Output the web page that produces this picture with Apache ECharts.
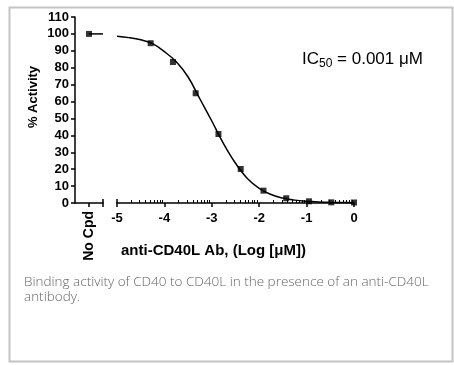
<!DOCTYPE html>
<html><head><meta charset="utf-8">
<script src="https://cdn.jsdelivr.net/npm/echarts@6/dist/echarts.min.js"></script>
<style>html,body{margin:0;padding:0;background:#fff}#c{width:454px;height:365px}</style>
</head><body><div id="c"></div>
<script>
// ---- data ----
const noCpdLabel = 'No Cpd';
const noCpdActivity = 100;
const logConc = [-4.29, -3.82, -3.34, -2.86, -2.39, -1.91, -1.43, -0.95, -0.48, 0];
const activity = [94.5, 83.4, 64.9, 40.8, 20.1, 7.3, 2.8, 1.0, 0.4, 0.3];
const fitLogConc = [-5, -4.75, -4.5, -4.25, -4, -3.75, -3.5, -3.25, -3, -2.75, -2.5, -2.25, -2, -1.75, -1.5, -1.25, -1, -0.75, -0.5, -0.25, 0];
const fitActivity = [98.6, 97.8, 96.5, 94.3, 89.5, 83.5, 74.5, 61.5, 48.5, 35, 23.5, 14.5, 8.7, 5.0, 2.9, 1.7, 1.0, 0.6, 0.4, 0.3, 0.2];
const xMajorTicks = [-5, -4, -3, -2, -1, 0];
const yTickLabels = ['0','10','20','30','40','50','60','70','80','90','100','110'];
const yAxisTitle = '% Activity';
const xAxisTitle = 'anti-CD40L Ab, (Log [μM])';
const ic50Text = ['IC', '50', ' = 0.001 μM'];
const caption = 'Binding activity of CD40 to CD40L in the presence of an anti-CD40L\nantibody.';

// log-decade minor tick positions
const minorTicks = [];
for (let d = xMajorTicks[0]; d < xMajorTicks[xMajorTicks.length - 1]; d++) {
  for (let k = 2; k <= 9; k++) minorTicks.push(d + Math.log10(k));
}

const F = 'Liberation Sans, Arial, sans-serif';
const lbl = { color: '#000', fontFamily: F, fontWeight: 'bold', fontSize: 13 };
const axLine = { show: true, lineStyle: { color: '#000', width: 1.5 } };

const chart = echarts.init(document.getElementById('c'), null, { renderer: 'canvas' });
chart.setOption({
  animation: false,
  backgroundColor: '#fff',
  grid: [
    { left: 75, top: 17, width: 28, height: 186, outerBoundsMode: 'none' },
    { left: 117, top: 17, width: 237, height: 186, outerBoundsMode: 'none' }
  ],
  xAxis: [
    { gridIndex: 0, type: 'value', min: 0, max: 2, interval: 1, position: 'bottom',
      axisLine: axLine, splitLine: { show: false },
      axisTick: { show: true, customValues: [1, 2], length: 4, lineStyle: { color: '#000', width: 1.5 } },
      axisLabel: { show: true, customValues: [1], formatter: () => noCpdLabel, rotate: 90, margin: 8, ...lbl, fontSize: 14 } },
    { gridIndex: 0, type: 'value', min: 0, max: 2, position: 'bottom',
      axisLine: { show: false }, splitLine: { show: false }, axisLabel: { show: false },
      axisTick: { show: true, inside: true, customValues: [2], length: 4, lineStyle: { color: '#000', width: 1.5 } } },
    { gridIndex: 1, type: 'value', min: -5, max: 0, interval: 1, position: 'bottom',
      axisLine: axLine, splitLine: { show: false },
      axisTick: { show: true, length: 4, lineStyle: { color: '#000', width: 1.5 } },
      axisLabel: { show: true, margin: 9, ...lbl },
      name: xAxisTitle, nameLocation: 'middle', nameGap: 40,
      nameTextStyle: { ...lbl, fontSize: 15, padding: [0, 44, 0, 0] } },
    { gridIndex: 1, type: 'value', min: -5, max: 0, position: 'bottom',
      axisLine: { show: false }, splitLine: { show: false }, axisLabel: { show: false },
      axisTick: { show: true, inside: true, customValues: minorTicks, length: 3, lineStyle: { color: '#000', width: 1 } } },
    { gridIndex: 1, type: 'value', min: -5, max: 0, position: 'bottom',
      axisLine: { show: false }, splitLine: { show: false }, axisLabel: { show: false },
      axisTick: { show: true, inside: true, customValues: [xMajorTicks[0]], length: 4, lineStyle: { color: '#000', width: 1.5 } } }
  ],
  yAxis: [
    { gridIndex: 0, type: 'value', min: 0, max: 110, interval: 10, position: 'left',
      axisLine: axLine, splitLine: { show: false },
      axisTick: { show: true, length: 4, lineStyle: { color: '#000', width: 1.5 } },
      axisLabel: { show: true, margin: 6, ...lbl, formatter: (v) => yTickLabels[Math.round(v / 10)] },
      name: yAxisTitle, nameLocation: 'middle', nameGap: 35, nameRotate: 90,
      nameTextStyle: { ...lbl, fontSize: 13, padding: [0, 0, 0, 26] } },
    { gridIndex: 1, type: 'value', min: 0, max: 110, interval: 10, show: false }
  ],
  series: [
    { type: 'line', xAxisIndex: 0, yAxisIndex: 0, data: [[1, noCpdActivity], [2, noCpdActivity]],
      showSymbol: false, lineStyle: { color: '#000', width: 1.5 }, clip: false, silent: true },
    { type: 'scatter', xAxisIndex: 0, yAxisIndex: 0, data: [[1, noCpdActivity]],
      symbol: 'rect', symbolSize: 6, itemStyle: { color: '#000' }, clip: false },
    { type: 'line', xAxisIndex: 2, yAxisIndex: 1, data: fitLogConc.map((x, i) => [x, fitActivity[i]]),
      smooth: 0.4, showSymbol: false, lineStyle: { color: '#000', width: 1.5 }, clip: false },
    { type: 'scatter', xAxisIndex: 2, yAxisIndex: 1, data: logConc.map((x, i) => [x, activity[i]]),
      symbol: 'rect', symbolSize: 6, itemStyle: { color: '#000' }, clip: false }
  ],
  graphic: [
    { type: 'rect', left: 7, top: 5, shape: { width: 443, height: 354 }, silent: true,
      style: { fill: 'none', stroke: '#c4c4c4', lineWidth: 2 } },
    { type: 'text', left: 302, top: 51, silent: true,
      style: { text: '{n|' + ic50Text[0] + '}{s|' + ic50Text[1] + '}{n|' + ic50Text[2] + '}',
        rich: { n: { fontFamily: F, fontSize: 17, lineHeight: 21, fill: '#000' },
                s: { fontFamily: F, fontSize: 12, lineHeight: 9, verticalAlign: 'bottom', fill: '#000' } } } },
    { type: 'text', left: 24, top: 275, silent: true,
      style: { text: caption, fontFamily: 'Open Sans', fontWeight: 300, fontSize: 13.5, lineHeight: 15, fill: '#666' } }
  ]
});
</script></body></html>
